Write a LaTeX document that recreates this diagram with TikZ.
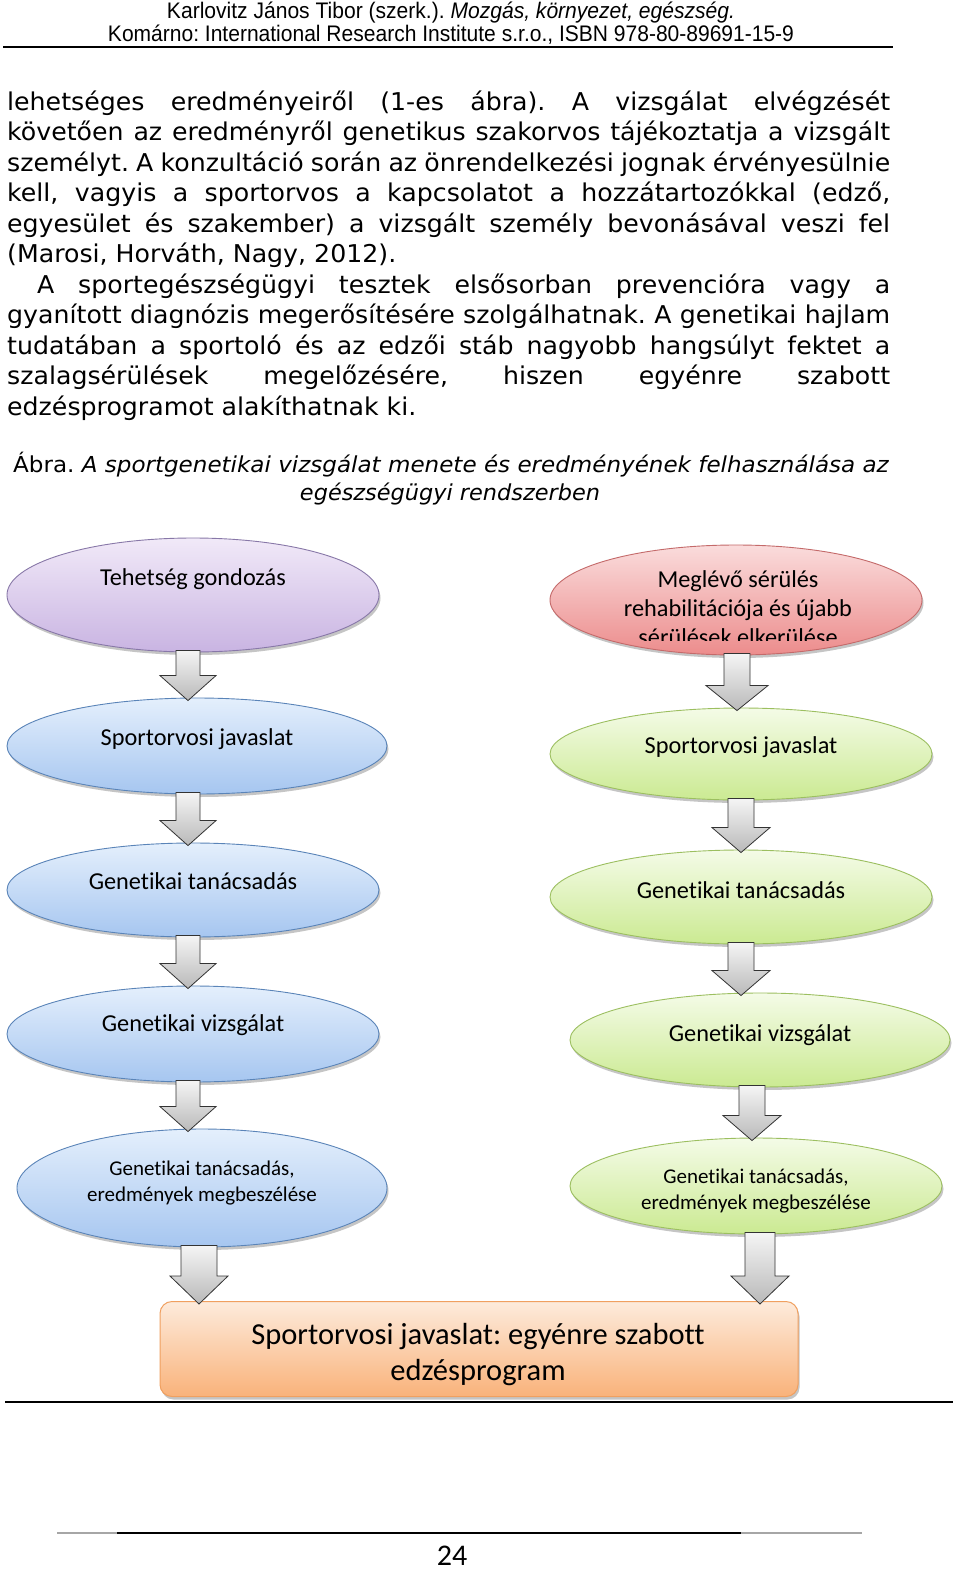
\documentclass[tikz,border=0pt]{standalone}
\usepackage{fontspec}
\usepackage{graphicx}
\setmainfont[FakeStretch=1.03]{DejaVu Sans}
\newfontfamily\capfont{DejaVu Sans}
\newfontfamily\hdrfont{Liberation Sans}
\newfontfamily\calfont[Ligatures={NoCommon,NoRequired,NoContextual}]{Carlito}
\usetikzlibrary{shapes.geometric,shadows,calc}
\frenchspacing
\definecolor{purpT}{HTML}{F1E9F8}\definecolor{purpB}{HTML}{C9B4E2}\definecolor{purpD}{HTML}{8878A8}
\definecolor{redT}{HTML}{FADCDC}\definecolor{redB}{HTML}{EC8C8C}\definecolor{redD}{HTML}{C46A6A}
\definecolor{bluT}{HTML}{E4EFFC}\definecolor{bluB}{HTML}{A6C6F0}\definecolor{bluD}{HTML}{5A84B8}
\definecolor{grnT}{HTML}{F4FBE7}\definecolor{grnB}{HTML}{CBEA92}\definecolor{grnD}{HTML}{9CBF60}
\definecolor{orgT}{HTML}{FDEBDC}\definecolor{orgB}{HTML}{F9B27A}\definecolor{orgD}{HTML}{F0A060}
\newcommand\bodyline[4]{\node[anchor=base west,inner sep=0pt] (#1) at (#2,#3) {#4};}
\newcommand\blockarr[6]{%
  \draw[barrow] let \p1=(#2.south), \p2=(#3.north) in
    ({#1pt-#4pt},{\y1+2pt}) -- ({#1pt+#4pt},{\y1+2pt}) -- ({#1pt+#4pt},{\y2-3pt+#6pt})
    -- ({#1pt+#5pt},{\y2-3pt+#6pt}) -- (#1pt,{\y2-3pt}) -- ({#1pt-#5pt},{\y2-3pt+#6pt})
    -- ({#1pt-#4pt},{\y2-3pt+#6pt}) -- cycle;}
\begin{document}
\begin{tikzpicture}[x=1pt,y=-1pt,
  ell/.style={ellipse,inner sep=0pt,line width=0.9pt,
    drop shadow={shadow xshift=1.5pt,shadow yshift=-3pt,fill=black!45}},
  purp/.style={ell,draw=purpD,top color=purpT,bottom color=purpB},
  redd/.style={ell,draw=redD,top color=redT,bottom color=redB},
  blu/.style={ell,draw=bluD,top color=bluT,bottom color=bluB},
  grn/.style={ell,draw=grnD,top color=grnT,bottom color=grnB},
  orgbox/.style={rectangle,rounded corners=12pt,inner sep=0pt,line width=1pt,draw=orgD,
    top color=orgT,bottom color=orgB,
    drop shadow={shadow xshift=1.5pt,shadow yshift=-3pt,fill=black!45}},
  barrow/.style={draw=black!80,line width=0.8pt,line join=miter,top color=gray!8,bottom color=gray!55},
  etxt/.style={inner sep=0pt,align=center,font=\calfont\fontsize{24.3}{29}\selectfont},
  etxs/.style={inner sep=0pt,align=center,font=\calfont\fontsize{21}{26}\selectfont},
]
\useasboundingbox (0,0) rectangle (960,1574);
\fill[white] (0,0) rectangle (960,1574);

% header
\node[anchor=base,inner sep=0pt] (h1) at (451,18) {\hdrfont\fontsize{22.5}{26}\selectfont\resizebox{568pt}{\height}{Karlovitz János Tibor (szerk.). \textit{Mozgás, környezet, egészség.}}};
\node[anchor=base,inner sep=0pt] (h2) at (451,41) {\hdrfont\fontsize{22.5}{26}\selectfont\resizebox{686pt}{\height}{Komárno: International Research Institute s.r.o., ISBN 978-80-89691-15-9}};
\coordinate (hl1) at (3,47); \coordinate (hl2) at (893,47);
\draw[line width=1.3pt] (hl1) -- (hl2);

% body text
\begin{scope}[font=\fontsize{24.5}{30}\selectfont]
\bodyline{t1}{7}{110}{\makebox[883pt][s]{lehetséges eredményeiről (1-es ábra). A vizsgálat elvégzését}}
\bodyline{t2}{7}{140.5}{\makebox[883pt][s]{követően az eredményről genetikus szakorvos tájékoztatja a vizsgált}}
\bodyline{t3}{7}{171}{\makebox[883pt][s]{személyt. A konzultáció során az önrendelkezési jognak érvényesülnie}}
\bodyline{t4}{7}{201.5}{\makebox[883pt][s]{kell, vagyis a sportorvos a kapcsolatot a hozzátartozókkal (edző,}}
\bodyline{t5}{7}{232}{\makebox[883pt][s]{egyesület és szakember) a vizsgált személy bevonásával veszi fel}}
\bodyline{t6}{7}{262.5}{(Marosi, Horváth, Nagy, 2012).}
\bodyline{t7}{37}{293}{\makebox[853pt][s]{A sportegészségügyi tesztek elsősorban prevencióra vagy a}}
\bodyline{t8}{7}{323.5}{\makebox[883pt][s]{gyanított diagnózis megerősítésére szolgálhatnak. A genetikai hajlam}}
\bodyline{t9}{7}{354}{\makebox[883pt][s]{tudatában a sportoló és az edzői stáb nagyobb hangsúlyt fektet a}}
\bodyline{t10}{7}{384.5}{\makebox[883pt][s]{szalagsérülések megelőzésére, hiszen egyénre szabott}}
\bodyline{t11}{7}{415}{edzésprogramot alakíthatnak ki.}
\end{scope}

% caption
\node[anchor=base west,inner sep=0pt] (c1) at (13,472) {\capfont\fontsize{22}{26}\selectfont\resizebox{876pt}{\height}{Ábra. \textit{A sportgenetikai vizsgálat menete és eredményének felhasználása az}}};
\node[anchor=base,inner sep=0pt] (c2) at (450,500) {\capfont\fontsize{22}{26}\selectfont\resizebox{300pt}{\height}{\textit{egészségügyi rendszerben}}};

% left column
\node[purp,minimum width=372pt,minimum height=114pt] (L1) at (193,595) {};
\node[blu,minimum width=380pt,minimum height=96pt] (L2) at (197,746) {};
\node[blu,minimum width=372pt,minimum height=94pt] (L3) at (193,890) {};
\node[blu,minimum width=372pt,minimum height=96pt] (L4) at (193,1034) {};
\node[blu,minimum width=370pt,minimum height=118pt] (L5) at (202,1188) {};
% right column
\node[redd,minimum width=372pt,minimum height=110pt] (R1) at (736,600) {};
\node[grn,minimum width=382pt,minimum height=92pt] (R2) at (741,754) {};
\node[grn,minimum width=382pt,minimum height=94pt] (R3) at (741,897) {};
\node[grn,minimum width=380pt,minimum height=94pt] (R4) at (760,1040) {};
\node[grn,minimum width=372pt,minimum height=96pt] (R5) at (756,1186) {};
% bottom box
\node[orgbox,minimum width=638pt,minimum height=95pt] (B) at (479,1349) {};

% texts
\node[etxt] (L1t) at (193,579) {Tehetség gondozás};
\node[etxt] (L2t) at (197,739) {Sportorvosi javaslat};
\node[etxt] (L3t) at (193,881) {Genetikai tanácsadás};
\node[etxt] (L4t) at (193,1025) {Genetikai vizsgálat};
\node[etxs] (L5t) at (202,1183) {Genetikai tanácsadás,\\eredmények megbeszélése};
\begin{scope}
\clip (550,555) rectangle (922,640);
\node[etxt] (R1t) at (738,608) {Meglévő sérülés\\rehabilitációja és újabb\\sérülések elkerülése};
\end{scope}
\node[etxt] (R2t) at (741,747) {Sportorvosi javaslat};
\node[etxt] (R3t) at (741,890) {Genetikai tanácsadás};
\node[etxt] (R4t) at (760,1035) {Genetikai vizsgálat};
\node[etxs] (R5t) at (756,1191) {Genetikai tanácsadás,\\eredmények megbeszélése};
\node[inner sep=0pt,align=center,font=\calfont\fontsize{30.5}{36}\selectfont] (Bt) at (478,1355) {Sportorvosi javaslat: egyénre szabott\\edzésprogram};

% block arrows
\blockarr{188}{L1}{L2}{12}{28}{25}
\blockarr{188}{L2}{L3}{12}{28}{25}
\blockarr{188}{L3}{L4}{12}{28}{25}
\blockarr{188}{L4}{L5}{12}{28}{25}
\blockarr{199}{L5}{B}{18}{29}{28}
\blockarr{737}{R1}{R2}{13}{31}{25}
\blockarr{741}{R2}{R3}{13}{29}{25}
\blockarr{741}{R3}{R4}{13}{29}{25}
\blockarr{752}{R4}{R5}{13}{29}{25}
\blockarr{760}{R5}{B}{15}{29}{28}

% rules and footer
\coordinate (fl1) at (5,1402); \coordinate (fl2) at (953,1402);
\draw[line width=2pt] (fl1) -- (fl2);
\coordinate (ft1) at (57,1533); \coordinate (ft2) at (862,1533);
\coordinate (ft3) at (117,1533); \coordinate (ft4) at (741,1533);
\draw[line width=1.5pt,gray!70] (ft1) -- (ft2);
\draw[line width=1.5pt] (ft3) -- (ft4);
\node[inner sep=0pt,font=\calfont\fontsize{30}{34}\selectfont] (pg) at (452,1556) {24};
\end{tikzpicture}
\end{document}
